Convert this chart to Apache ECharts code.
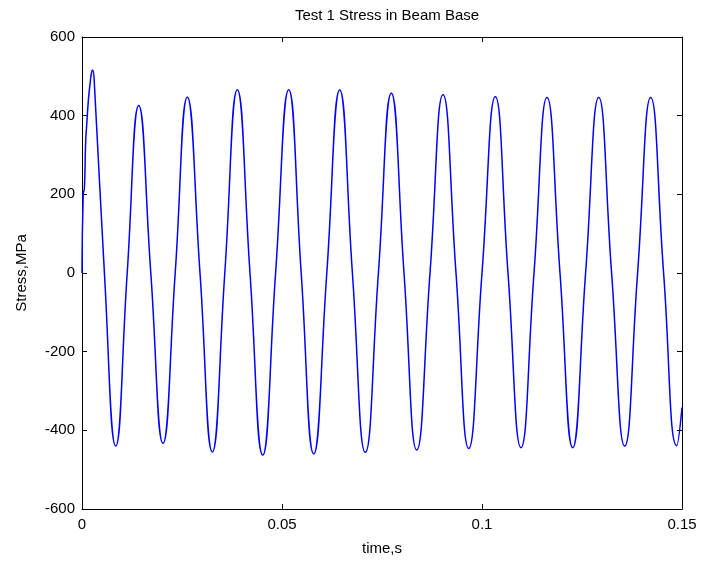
<!DOCTYPE html>
<html>
<head>
<meta charset="utf-8">
<script src="https://cdn.jsdelivr.net/npm/echarts@6/dist/echarts.min.js"></script>
<style>
html,body{margin:0;padding:0;background:#fff;}
#chart{width:713px;height:561px;}
</style>
</head>
<body>
<div id="chart"></div>
<script>
// time in seconds
var timeS = [
  0, 0.0003, 0.0006, 0.0009, 0.0012, 0.0016, 0.0020, 0.0024, 0.00268, 0.0031,
  0.0056, 0.00843,
  0.0113, 0.01418,
  0.0172, 0.02025,
  0.0233, 0.02633,
  0.0295, 0.03258,
  0.0357, 0.03883,
  0.0420, 0.04518,
  0.0484, 0.05168,
  0.0548, 0.05793,
  0.0612, 0.06443,
  0.0676, 0.07083,
  0.0741, 0.07733,
  0.0805, 0.08368,
  0.0870, 0.09025,
  0.0935, 0.09668,
  0.1000, 0.10333,
  0.1065, 0.10975,
  0.1130, 0.11625,
  0.1195, 0.12268,
  0.1259, 0.12918,
  0.1324, 0.13568,
  0.1389, 0.14218,
  0.1454, 0.14868,
  0.1500
];
// stress in MPa
var stressMPa = [
  0, 200, 215, 330, 380, 440, 480, 510, 516, 480,
  0, -440,
  0, 426,
  0, -433,
  0, 447,
  0, -455,
  0, 466,
  0, -463,
  0, 466,
  0, -460,
  0, 465,
  0, -456,
  0, 457,
  0, -450,
  0, 453,
  0, -446,
  0, 448,
  0, -444,
  0, 446,
  0, -444,
  0, 446,
  0, -440,
  0, 446,
  0, -439,
  -342
];
var xTicks = [0, 0.05, 0.1, 0.15];
var yTicks = [-600, -400, -200, 0, 200, 400, 600];

var pts = timeS.map(function (t, i) { return [t, stressMPa[i]]; });
var font = 'Liberation Sans, Arial, Helvetica, sans-serif';
var axisCommon = {
  axisLine: { show: true, onZero: false, lineStyle: { color: '#000', width: 1 } },
  axisTick: { show: true, inside: true, length: 5, lineStyle: { color: '#000' } },
  splitLine: { show: false }
};
var chart = echarts.init(document.getElementById('chart'), null, { renderer: 'canvas' });
chart.setOption({
  backgroundColor: '#fff',
  animation: false,
  title: {
    text: 'Test 1 Stress in Beam Base',
    left: 382, textAlign: 'center', top: 3,
    textStyle: { fontFamily: font, fontSize: 15, fontWeight: 'normal', color: '#000' }
  },
  grid: { left: 82, right: 31, top: 37, bottom: 51, containLabel: false },
  xAxis: [
    Object.assign({
      type: 'value', min: xTicks[0], max: xTicks[xTicks.length - 1], interval: 0.05,
      position: 'bottom',
      name: 'time,s', nameLocation: 'middle', nameGap: 32,
      nameTextStyle: { fontFamily: font, fontSize: 15, color: '#000' },
      axisLabel: { fontFamily: font, fontSize: 15, color: '#000', margin: 8 }
    }, axisCommon),
    Object.assign({
      type: 'value', min: xTicks[0], max: xTicks[xTicks.length - 1], interval: 0.05,
      position: 'top', axisLabel: { show: false }
    }, axisCommon)
  ],
  yAxis: [
    Object.assign({
      type: 'value', min: yTicks[0], max: yTicks[yTicks.length - 1], interval: 200,
      position: 'left',
      name: 'Stress,MPa', nameLocation: 'middle', nameGap: 53, nameRotate: 90,
      nameTextStyle: { fontFamily: font, fontSize: 15, color: '#000' },
      axisLabel: { fontFamily: font, fontSize: 15, color: '#000', margin: 7 }
    }, axisCommon),
    Object.assign({
      type: 'value', min: yTicks[0], max: yTicks[yTicks.length - 1], interval: 200,
      position: 'right', axisLabel: { show: false }
    }, axisCommon)
  ],
  series: [{
    type: 'line',
    data: pts,
    xAxisIndex: 0, yAxisIndex: 0,
    showSymbol: false,
    smooth: 0.5,
    lineStyle: { color: '#0000ff', width: 1.5 },
    clip: true
  }]
});
</script>
</body>
</html>
